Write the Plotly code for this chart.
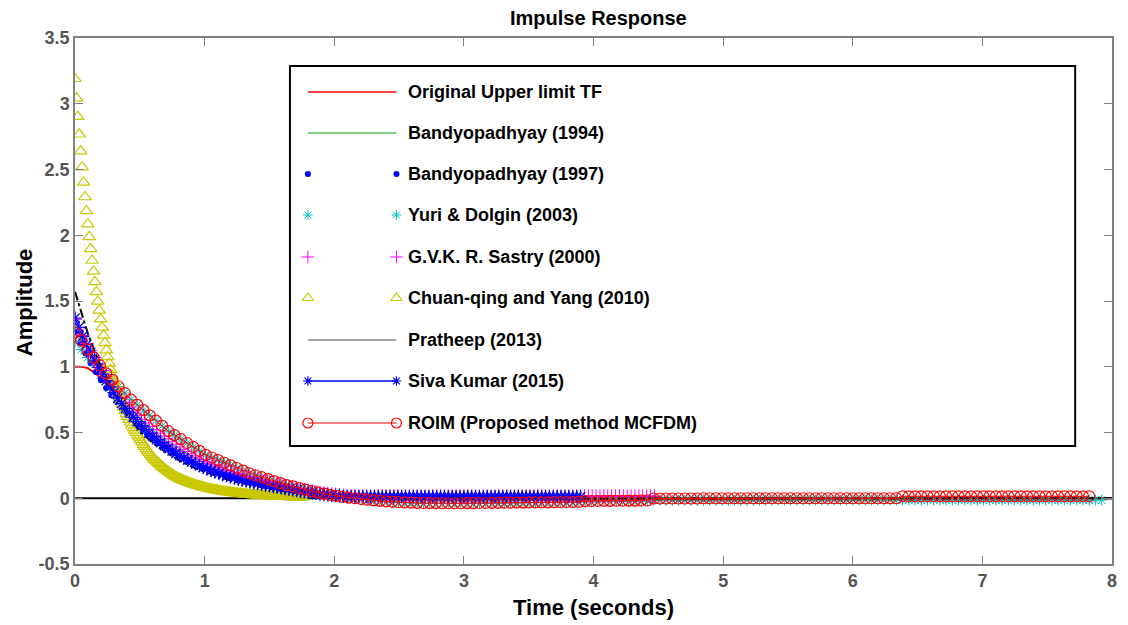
import numpy as np
import plotly.graph_objects as go

# ---------------- data ----------------
# Original upper limit TF (line)
orig_t = [0, 0.05, 0.10, 0.13, 0.17, 0.20, 0.25, 0.30, 0.40, 0.50, 0.60, 0.70, 0.80, 0.90, 1.00,
          1.20, 1.40, 1.60, 1.80, 2.00, 2.20, 2.50, 3.00, 3.50, 4.00, 5.00, 6.00, 7.00, 8.00]
orig_v = [1.00, 1.00, 0.99, 0.97, 0.94, 0.91, 0.86, 0.80, 0.68, 0.57, 0.48, 0.40, 0.33, 0.27, 0.22,
          0.15, 0.10, 0.06, 0.035, 0.015, 0.0, -0.012, -0.018, -0.015, -0.010, -0.004, -0.001, 0.0, 0.0]

# Bandyopadhyay (1994) (line)
b94_t = [0, 0.1, 0.2, 0.3, 0.4, 0.5, 0.6, 0.7, 0.8, 0.9, 1.0, 1.2, 1.4, 1.6, 1.8, 2.0, 2.2, 2.5, 3.0, 4.0, 5.0, 8.0]
b94_v = [1.30, 1.12, 0.97, 0.83, 0.71, 0.61, 0.52, 0.44, 0.38, 0.32, 0.27, 0.19, 0.135, 0.09, 0.055,
         0.03, 0.012, 0.0, -0.005, -0.003, 0.0, 0.0]

# Bandyopadhyay (1997) (dots), sample step 0.04 s
b97_dt = 0.04
b97_v = [1.260, 1.177, 1.100, 1.027, 0.960, 0.897, 0.838, 0.783, 0.731, 0.683,
         0.638, 0.596, 0.557, 0.520, 0.486, 0.454, 0.424, 0.396, 0.370, 0.346,
         0.323, 0.302, 0.282, 0.264, 0.246, 0.230, 0.215, 0.201, 0.188, 0.175,
         0.164, 0.153, 0.143, 0.134, 0.125, 0.117, 0.109, 0.102, 0.095, 0.088,
         0.081, 0.074, 0.067, 0.060, 0.054, 0.048, 0.043, 0.038, 0.033, 0.029,
         0.025, 0.021, 0.018, 0.015, 0.012, 0.010, 0.009, 0.008, 0.008, 0.008,
         0.008, 0.008, 0.008, 0.008, 0.008, 0.008, 0.008, 0.008, 0.008, 0.008,
         0.008, 0.008, 0.008, 0.008, 0.008, 0.008, 0.008, 0.008, 0.008, 0.008,
         0.008, 0.008, 0.008, 0.008, 0.008, 0.008, 0.008, 0.008, 0.008, 0.008,
         0.008, 0.008, 0.008, 0.008, 0.008, 0.008, 0.008, 0.008]

# Yuri & Dolgin (2003) (stars), sample step 0.048 s
yuri_dt = 0.048
yuri_v = [1.19, 1.13, 1.07, 1.03, 0.99, 0.94, 0.89,
          0.85, 0.80, 0.75, 0.71, 0.67, 0.63, 0.59, 0.55, 0.51, 0.48,
          0.45, 0.42, 0.39, 0.36, 0.33, 0.31, 0.29, 0.27, 0.25, 0.23,
          0.21, 0.19, 0.175, 0.16, 0.145, 0.13, 0.115, 0.10, 0.09, 0.078,
          0.066, 0.055, 0.045, 0.035, 0.026, 0.018, 0.011, 0.005,
          -0.003, -0.008, -0.013, -0.018, -0.022, -0.026, -0.029, -0.032, -0.034, -0.036,
          -0.038, -0.039, -0.040, -0.040, -0.041, -0.041, -0.041, -0.041, -0.040, -0.040,
          -0.039, -0.039, -0.038, -0.038, -0.037, -0.036, -0.036, -0.035, -0.034, -0.034,
          -0.033, -0.032, -0.032, -0.031, -0.030, -0.030, -0.029, -0.028, -0.028, -0.027,
          -0.026, -0.026, -0.025, -0.024, -0.024, -0.023, -0.022, -0.022,
          -0.016, -0.016, -0.016, -0.016, -0.016, -0.016, -0.016, -0.016, -0.016, -0.016,
          -0.016, -0.016, -0.016, -0.016, -0.016, -0.016, -0.016, -0.016,
          -0.014, -0.014, -0.014, -0.014, -0.014, -0.014, -0.014, -0.014, -0.014, -0.014,
          -0.014, -0.014, -0.014, -0.014, -0.014, -0.014, -0.014, -0.014, -0.014, -0.014,
          -0.014, -0.014, -0.014, -0.014, -0.014, -0.014, -0.014, -0.014, -0.014, -0.014,
          -0.014, -0.014, -0.014, -0.014, -0.014, -0.014, -0.014, -0.014, -0.014, -0.014,
          -0.014, -0.014, -0.014, -0.014, -0.014, -0.014, -0.014, -0.014, -0.014, -0.014,
          -0.014, -0.014, -0.014, -0.014, -0.014]

# G.V.K. R. Sastry (2000) (plus), sample step 0.03 s
sastry_dt = 0.03
sastry_v = [1.360, 1.296, 1.235, 1.177, 1.122, 1.070, 1.020, 0.972, 0.926, 0.883,
            0.841, 0.802, 0.764, 0.729, 0.694, 0.662, 0.631, 0.601, 0.573, 0.546,
            0.521, 0.496, 0.473, 0.451, 0.430, 0.410, 0.390, 0.372, 0.355, 0.338,
            0.322, 0.307, 0.293, 0.279, 0.266, 0.254, 0.242, 0.230, 0.219, 0.209,
            0.199, 0.190, 0.181, 0.173, 0.165, 0.157, 0.149, 0.142, 0.136, 0.129,
            0.123, 0.116, 0.109, 0.102, 0.095, 0.088, 0.082, 0.076, 0.070, 0.064,
            0.058, 0.053, 0.048, 0.043, 0.039, 0.035, 0.031, 0.027, 0.024, 0.021,
            0.019, 0.017, 0.016, 0.015, 0.015, 0.015, 0.015, 0.015, 0.015, 0.015,
            0.015, 0.015, 0.015, 0.015, 0.015, 0.015, 0.015, 0.015, 0.015, 0.015,
            0.015, 0.015, 0.015, 0.015, 0.015, 0.015, 0.015, 0.015, 0.015, 0.015,
            0.015, 0.015, 0.015, 0.015, 0.015, 0.015, 0.015, 0.015, 0.015, 0.015,
            0.015, 0.015, 0.015, 0.015, 0.015, 0.015, 0.015, 0.015, 0.015, 0.015,
            0.015, 0.015, 0.015, 0.015, 0.015, 0.015, 0.015, 0.015, 0.015, 0.015,
            0.015, 0.015, 0.015, 0.015, 0.015, 0.015, 0.015, 0.015, 0.015, 0.015,
            0.015, 0.015, 0.015, 0.015, 0.015, 0.015, 0.015, 0.015, 0.015, 0.015]

# Chuan-qing and Yang (2010) (triangles), sample step 0.011 s
chuan_dt = 0.011
chuan_v = [3.190, 3.043, 2.902, 2.768, 2.640, 2.518, 2.402, 2.291, 2.185, 2.084,
           1.988, 1.896, 1.808, 1.725, 1.645, 1.569, 1.497, 1.428, 1.362, 1.299,
           1.239, 1.182, 1.127, 1.075, 1.025, 0.978, 0.933, 0.890, 0.858, 0.828,
           0.798, 0.770, 0.742, 0.716, 0.690, 0.666, 0.642, 0.619, 0.597, 0.576,
           0.555, 0.535, 0.516, 0.498, 0.480, 0.463, 0.444, 0.426, 0.408, 0.392,
           0.376, 0.360, 0.345, 0.331, 0.318, 0.305, 0.294, 0.282, 0.271, 0.261,
           0.251, 0.241, 0.232, 0.223, 0.214, 0.206, 0.198, 0.190, 0.183, 0.176,
           0.169, 0.162, 0.156, 0.150, 0.145, 0.140, 0.136, 0.131, 0.127, 0.122,
           0.118, 0.114, 0.110, 0.107, 0.103, 0.100, 0.096, 0.093, 0.090, 0.087,
           0.084, 0.081, 0.079, 0.076, 0.073, 0.071, 0.069, 0.066, 0.064, 0.062,
           0.060, 0.058, 0.056, 0.054, 0.052, 0.050, 0.049, 0.047, 0.046, 0.044,
           0.043, 0.041, 0.040, 0.038, 0.037, 0.036, 0.035, 0.034, 0.032, 0.031,
           0.030, 0.029, 0.028, 0.027, 0.026, 0.026, 0.025, 0.024, 0.023, 0.022,
           0.022, 0.021, 0.020, 0.019, 0.019, 0.018, 0.018, 0.017, 0.016, 0.016,
           0.015, 0.015, 0.014, 0.014, 0.013, 0.013, 0.013, 0.012, 0.012, 0.011,
           0.011, 0.011, 0.010, 0.010, 0.010, 0.009, 0.009, 0.009, 0.008, 0.008,
           0.008]

# Pratheep (2013) (dash-dot line)
prat_t = [0, 0.05, 0.10, 0.15, 0.20, 0.30, 0.40, 0.50, 0.60, 0.70, 0.80, 0.90, 1.00, 1.20, 1.40,
          1.60, 1.80, 2.00, 2.20, 2.50, 3.00, 3.50, 4.00, 5.00, 6.00, 7.00, 8.00]
prat_v = [1.57, 1.40, 1.25, 1.12, 1.00, 0.80, 0.64, 0.51, 0.42, 0.35, 0.29, 0.24, 0.20, 0.135, 0.09,
          0.055, 0.03, 0.013, 0.002, -0.006, -0.008, -0.006, -0.003, -0.001, 0.0, 0.0, 0.0]

# Siva Kumar (2015) (line + stars), sample step 0.03 s
siva_dt = 0.03
siva_v = [1.370, 1.299, 1.232, 1.168, 1.107, 1.050, 0.995, 0.943, 0.894, 0.847,
          0.803, 0.761, 0.722, 0.684, 0.649, 0.615, 0.583, 0.552, 0.524, 0.496,
          0.471, 0.446, 0.423, 0.401, 0.380, 0.360, 0.342, 0.324, 0.307, 0.291,
          0.276, 0.262, 0.248, 0.235, 0.223, 0.212, 0.201, 0.190, 0.180, 0.171,
          0.162, 0.153, 0.145, 0.138, 0.131, 0.124, 0.117, 0.111, 0.105, 0.099,
          0.094, 0.089, 0.084, 0.078, 0.073, 0.068, 0.063, 0.058, 0.053, 0.048,
          0.044, 0.040, 0.036, 0.032, 0.028, 0.025, 0.022, 0.019, 0.016, 0.014,
          0.013, 0.013, 0.012, 0.012, 0.012, 0.012, 0.012, 0.012, 0.012, 0.012,
          0.012, 0.012, 0.012, 0.012, 0.012, 0.012, 0.012, 0.012, 0.012, 0.012,
          0.012, 0.012, 0.012, 0.012, 0.012, 0.012, 0.012, 0.012, 0.012, 0.012,
          0.012, 0.012, 0.012, 0.012, 0.012, 0.012, 0.012, 0.012, 0.012, 0.012,
          0.012, 0.012, 0.012, 0.012, 0.012, 0.012, 0.012, 0.012, 0.012, 0.012,
          0.012, 0.012, 0.012, 0.012, 0.012, 0.012, 0.012, 0.012, 0.012, 0.012,
          0.012]

# ROIM (Proposed method MCFDM) (line + circles), sample step 0.048 s
roim_dt = 0.048
roim_v = [1.26, 1.20, 1.13, 1.07, 1.01, 0.95, 0.90, 0.85, 0.80, 0.75,
          0.71, 0.67, 0.63, 0.59, 0.55, 0.51, 0.48, 0.45, 0.42, 0.39,
          0.36, 0.33, 0.31, 0.29, 0.27, 0.25, 0.23, 0.21, 0.19, 0.175,
          0.16, 0.145, 0.13, 0.115, 0.10, 0.09, 0.078, 0.066, 0.055, 0.045,
          0.035, 0.026, 0.018, 0.011, 0.005, 0.000, -0.006, -0.011, -0.016, -0.020,
          -0.024, -0.027, -0.030, -0.032, -0.034, -0.035, -0.036, -0.037, -0.037, -0.038,
          -0.038, -0.038, -0.038, -0.037, -0.037, -0.036, -0.036, -0.035, -0.035, -0.034,
          -0.034, -0.033, -0.033, -0.032, -0.032, -0.031, -0.031, -0.030, -0.030, -0.029,
          -0.029, -0.028, -0.022, -0.021, -0.021, -0.020, -0.020, -0.019, -0.019, -0.018,
          -0.018, -0.017, -0.017, -0.002, -0.002, -0.002, -0.002, -0.002, -0.002, -0.002,
          -0.002, 0.000, 0.000, 0.000, 0.000, 0.000, 0.000, 0.000, 0.000, 0.000,
          0.000, 0.000, 0.000, 0.000, 0.000, 0.000, 0.000, 0.000, 0.000, 0.000,
          0.000, 0.000, 0.000, 0.000, 0.000, 0.000, 0.000, 0.000, 0.000, 0.000,
          0.000, 0.000, 0.000, 0.015, 0.015, 0.015, 0.015, 0.015, 0.015, 0.015,
          0.015, 0.015, 0.015, 0.015, 0.015, 0.015, 0.015, 0.015, 0.015, 0.015,
          0.015, 0.015, 0.015, 0.015, 0.015, 0.015, 0.015, 0.015, 0.015, 0.015,
          0.015, 0.015, 0.015, 0.015]

# zero reference line of the impulse plot
zero_t = [0, 8]
zero_v = [0, 0]

# axes ticks
x_ticks = [0, 1, 2, 3, 4, 5, 6, 7, 8]
y_ticks = [-0.5, 0, 0.5, 1, 1.5, 2, 2.5, 3, 3.5]
y_tick_text = ["-0.5", "0", "0.5", "1", "1.5", "2", "2.5", "3", "3.5"]

legend_names = ["Original Upper limit TF", "Bandyopadhyay (1994)", "Bandyopadhyay (1997)",
                "Yuri & Dolgin (2003)", "G.V.K. R. Sastry (2000)", "Chuan-qing and Yang (2010)",
                "Pratheep (2013)", "Siva Kumar (2015)", "ROIM (Proposed method MCFDM)"]


def times(dt, vals):
    return np.arange(len(vals)) * dt


# ---------------- styles ----------------
RED = "#FF0000"
GREEN = "#00A000"
BLUE = "#0000FF"
CYAN = "#00BFBF"
MAGENTA = "#FF00FF"
YELLOW = "#C8C800"
BLACK = "#000000"
FONT = "Liberation Sans, Arial, sans-serif"

fig = go.Figure()

fig.add_trace(go.Scatter(x=zero_t, y=zero_v, mode="lines", line=dict(color=BLACK, width=1.8)))
fig.add_trace(go.Scatter(x=orig_t, y=orig_v, mode="lines", line=dict(color=RED, width=2)))
fig.add_trace(go.Scatter(x=b94_t, y=b94_v, mode="lines", line=dict(color=GREEN, width=1)))
fig.add_trace(go.Scatter(x=times(b97_dt, b97_v), y=b97_v, mode="markers",
                         marker=dict(symbol="circle", size=6, color=BLUE)))
fig.add_trace(go.Scatter(x=times(yuri_dt, yuri_v), y=yuri_v, mode="markers",
                         marker=dict(symbol="asterisk-open", size=9, color=CYAN,
                                     line=dict(color=CYAN, width=1))))
fig.add_trace(go.Scatter(x=times(sastry_dt, sastry_v), y=sastry_v, mode="markers",
                         marker=dict(symbol="cross-thin-open", size=10, color=MAGENTA,
                                     line=dict(color=MAGENTA, width=1))))
fig.add_trace(go.Scatter(x=times(chuan_dt, chuan_v), y=chuan_v, mode="markers",
                         marker=dict(symbol="triangle-up-open", size=11, color=YELLOW,
                                     line=dict(color=YELLOW, width=1.2))))
fig.add_trace(go.Scatter(x=prat_t, y=prat_v, mode="lines",
                         line=dict(color=BLACK, width=2, dash="dashdot")))
fig.add_trace(go.Scatter(x=times(siva_dt, siva_v), y=siva_v, mode="lines+markers",
                         line=dict(color=BLUE, width=1.5),
                         marker=dict(symbol="asterisk-open", size=11, color=BLUE,
                                     line=dict(color=BLUE, width=1.3))))
fig.add_trace(go.Scatter(x=times(roim_dt, roim_v), y=roim_v, mode="lines+markers",
                         line=dict(color=RED, width=1),
                         marker=dict(symbol="circle-open", size=11, color=RED,
                                     line=dict(color=RED, width=1.2))))

# ---------------- custom legend (MATLAB style, markers at both ends) ----------------
# plot area in pixels: x 75..1117, y 38..564
PX0, PX1, PY0, PY1 = 75, 1117, 38, 564


def fx(px):
    return (px - PX0) / (PX1 - PX0)


def fy(py):
    return (PY1 - py) / (PY1 - PY0)


row_py = [92, 133, 174, 215, 257, 298, 340, 381, 423]
lx0, lx1, ltext = 309, 398, 408

shapes = [dict(type="rect", xref="paper", yref="paper", x0=fx(291), x1=fx(1080),
               y0=fy(446), y1=fy(66), line=dict(color=BLACK, width=2), fillcolor="white",
               layer="below")]
line_styles = {0: (RED, 1.5, "solid"), 1: (GREEN, 1, "solid"), 6: ("#888888", 1.5, "solid"),
               7: (BLUE, 1.5, "solid"), 8: (RED, 1, "solid")}
for i, (c, w, d) in line_styles.items():
    shapes.append(dict(type="line", xref="paper", yref="paper", x0=fx(lx0), x1=fx(lx1),
                       y0=fy(row_py[i]), y1=fy(row_py[i]), line=dict(color=c, width=w, dash=d),
                       layer="below"))

annotations = []
for i, name in enumerate(legend_names):
    annotations.append(dict(text="<b>" + name.replace("&", "&amp;") + "</b>", xref="paper", yref="paper",
                            x=fx(ltext), y=fy(row_py[i]), xanchor="left", yanchor="middle",
                            showarrow=False, font=dict(family=FONT, size=18, color=BLACK)))

marker_rows = {2: dict(symbol="circle", size=6, color=BLUE),
               3: dict(symbol="asterisk-open", size=8, color=CYAN, line=dict(color=CYAN, width=1)),
               4: dict(symbol="cross-thin-open", size=9, color=MAGENTA, line=dict(color=MAGENTA, width=1)),
               5: dict(symbol="triangle-up-open", size=10, color=YELLOW, line=dict(color=YELLOW, width=1.2)),
               7: dict(symbol="asterisk-open", size=8, color=BLUE, line=dict(color=BLUE, width=1.2)),
               8: dict(symbol="circle-open", size=10, color=RED, line=dict(color=RED, width=1.2))}
for i, mk in marker_rows.items():
    fig.add_trace(go.Scatter(x=[fx(lx0), fx(lx1)], y=[fy(row_py[i])] * 2, mode="markers",
                             marker=mk, xaxis="x2", yaxis="y2", cliponaxis=False))

# axis titles & title
annotations.append(dict(text="<b>Time (seconds)</b>", xref="paper", yref="paper", x=0.5, y=fy(607),
                        xanchor="center", yanchor="middle", showarrow=False,
                        font=dict(family=FONT, size=22, color=BLACK)))
annotations.append(dict(text="<b>Amplitude</b>", xref="paper", yref="paper", x=fx(24), y=fy(302),
                        xanchor="center", yanchor="middle", textangle=-90, showarrow=False,
                        font=dict(family=FONT, size=22, color=BLACK)))
annotations.append(dict(text="<b>Impulse Response</b>", xref="paper", yref="paper", x=fx(601), y=fy(18),
                        xanchor="center", yanchor="middle", showarrow=False,
                        font=dict(family=FONT, size=20, color=BLACK)))

axis_common = dict(showgrid=False, zeroline=False, showline=True, linecolor="#808080", linewidth=1.5,
                   mirror="ticks", ticks="inside", ticklen=8, tickcolor="#808080", tickwidth=1,
                   tickfont=dict(family=FONT, size=18, color="#555555", weight="bold"))

fig.update_layout(
    width=1128, height=625,
    margin=dict(l=PX0, r=1128 - PX1, t=PY0, b=625 - PY1),
    plot_bgcolor="white", paper_bgcolor="white",
    showlegend=False,
    xaxis=dict(range=[0, 8], tickvals=x_ticks, **axis_common),
    yaxis=dict(range=[-0.5, 3.5], tickvals=y_ticks, ticktext=y_tick_text, **axis_common),
    xaxis2=dict(range=[0, 1], overlaying="x", visible=False),
    yaxis2=dict(range=[0, 1], overlaying="y", visible=False),
    shapes=shapes,
    annotations=annotations,
)

fig.write_html("out.html")
